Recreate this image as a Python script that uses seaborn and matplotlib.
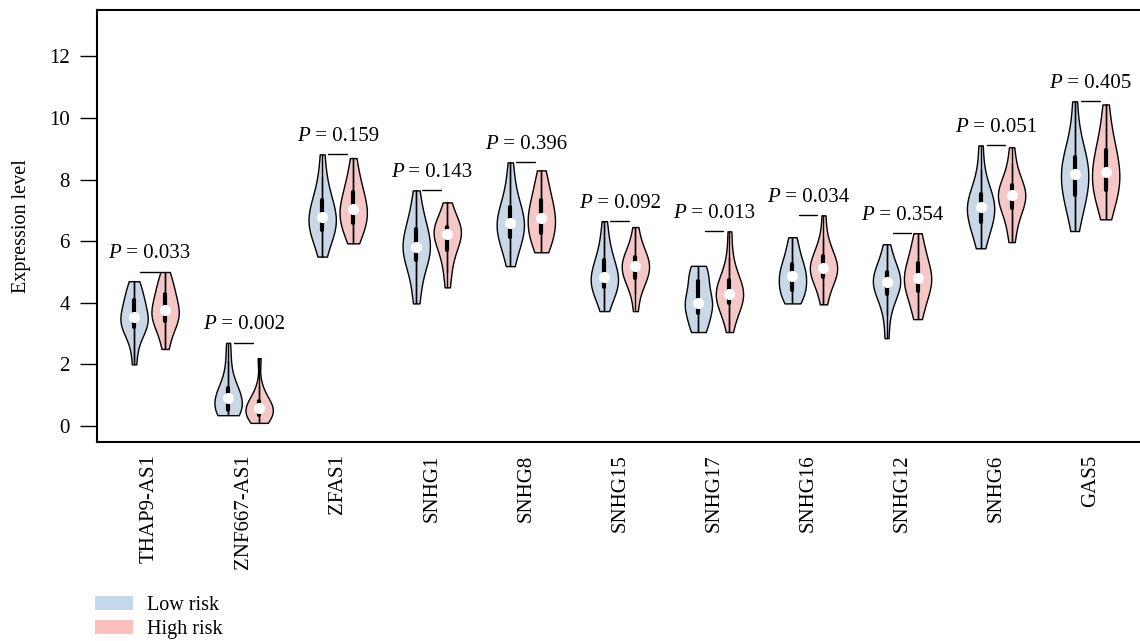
import numpy as np
import pandas as pd
import seaborn as sns
import matplotlib.pyplot as plt
from matplotlib.patches import Patch
from matplotlib.offsetbox import TextArea, HPacker, AnnotationBbox

genes = ["THAP9-AS1", "ZNF667-AS1", "ZFAS1", "SNHG1", "SNHG8", "SNHG15",
         "SNHG17", "SNHG16", "SNHG12", "SNHG6", "GAS5"]
p_values = ["0.033", "0.002", "0.159", "0.143", "0.396", "0.092",
            "0.013", "0.034", "0.354", "0.051", "0.405"]

# expression values (low risk group)
low_risk = [
    [2.0, 2.7, 3.0, 3.2, 3.25, 3.35, 3.45, 3.53, 3.6, 3.7, 4.0, 4.15, 4.25, 4.45, 4.7],
    [0.35, 0.38, 0.42, 0.48, 0.55, 0.65, 0.8, 0.9, 1.0, 1.1, 1.15, 1.3, 1.6, 2.1, 2.7],
    [5.5, 5.9, 6.15, 6.3, 6.45, 6.55, 6.65, 6.77, 6.9, 7.05, 7.25, 7.4, 7.7, 8.1, 8.82],
    [3.98, 4.5, 5.0, 5.3, 5.5, 5.6, 5.7, 5.8, 5.95, 6.1, 6.3, 6.5, 6.7, 7.1, 7.65],
    [5.19, 5.6, 5.9, 6.05, 6.2, 6.35, 6.5, 6.6, 6.7, 6.85, 7.0, 7.2, 7.5, 7.9, 8.56],
    [3.73, 4.1, 4.3, 4.45, 4.55, 4.65, 4.75, 4.84, 4.95, 5.1, 5.3, 5.45, 5.7, 6.1, 6.65],
    [3.05, 3.15, 3.3, 3.5, 3.85, 3.9, 3.95, 3.98, 4.1, 4.3, 4.6, 4.8, 4.95, 5.1, 5.2],
    [3.98, 4.1, 4.25, 4.35, 4.45, 4.6, 4.75, 4.86, 4.95, 5.05, 5.2, 5.35, 5.55, 5.85, 6.13],
    [2.85, 3.6, 4.0, 4.25, 4.35, 4.5, 4.6, 4.67, 4.75, 4.85, 4.95, 5.05, 5.25, 5.5, 5.9],
    [5.77, 6.1, 6.4, 6.55, 6.7, 6.85, 7.0, 7.1, 7.2, 7.3, 7.45, 7.6, 7.85, 8.3, 9.11],
    [6.33, 6.9, 7.2, 7.4, 7.6, 7.8, 8.0, 8.17, 8.3, 8.45, 8.65, 8.85, 9.1, 9.6, 10.54],
]

# high risk group
high_risk = [
    [2.5, 2.9, 3.2, 3.35, 3.45, 3.55, 3.65, 3.76, 3.85, 3.95, 4.2, 4.35, 4.5, 4.7, 5.0],
    [0.1, 0.18, 0.25, 0.3, 0.38, 0.45, 0.52, 0.57, 0.62, 0.7, 0.78, 0.85, 1.0, 1.3, 2.2],
    [5.93, 6.2, 6.4, 6.55, 6.65, 6.8, 6.95, 7.06, 7.15, 7.3, 7.5, 7.7, 7.9, 8.2, 8.7],
    [4.5, 5.0, 5.4, 5.65, 5.8, 6.0, 6.15, 6.25, 6.3, 6.38, 6.43, 6.5, 6.7, 6.95, 7.26],
    [5.64, 5.8, 6.05, 6.2, 6.35, 6.5, 6.65, 6.75, 6.9, 7.05, 7.25, 7.4, 7.65, 7.95, 8.3],
    [3.73, 4.3, 4.6, 4.75, 4.85, 4.95, 5.1, 5.19, 5.25, 5.35, 5.45, 5.55, 5.75, 6.0, 6.46],
    [3.05, 3.5, 3.75, 3.95, 4.05, 4.15, 4.22, 4.3, 4.4, 4.5, 4.65, 4.8, 5.0, 5.5, 6.32],
    [3.95, 4.3, 4.6, 4.8, 4.9, 5.0, 5.07, 5.12, 5.2, 5.3, 5.45, 5.6, 5.8, 6.1, 6.84],
    [3.47, 3.8, 4.1, 4.3, 4.45, 4.6, 4.7, 4.8, 4.9, 5.05, 5.2, 5.4, 5.6, 5.9, 6.26],
    [5.97, 6.4, 6.8, 7.0, 7.15, 7.3, 7.4, 7.49, 7.55, 7.65, 7.75, 7.9, 8.1, 8.5, 9.05],
    [6.71, 7.1, 7.4, 7.6, 7.75, 7.9, 8.1, 8.24, 8.4, 8.6, 8.85, 9.05, 9.3, 9.8, 10.44],
]

groups = ["Low risk", "High risk"]
colors = ["#c5d7eb", "#fdbfbe"]

rows = []
for g, lo, hi in zip(genes, low_risk, high_risk):
    rows += [(g, "Low risk", v) for v in lo]
    rows += [(g, "High risk", v) for v in hi]
df = pd.DataFrame(rows, columns=["gene", "group", "value"])

sns.set_style("ticks")
plt.rcParams["font.family"] = ["Liberation Serif", "DejaVu Serif"]
for key in ["text.color", "axes.labelcolor", "xtick.color", "ytick.color",
            "axes.edgecolor"]:
    plt.rcParams[key] = "black"

fig = plt.figure(figsize=(11.4, 6.41), dpi=100)
ax = fig.add_axes([0.085, 0.3105, 0.915, 0.6735])

violin_width = 0.66
sns.violinplot(data=df, x="gene", y="value", hue="group", order=genes,
               hue_order=groups, palette=colors, cut=0, density_norm="width",
               width=violin_width, gap=0.12, linewidth=1, linecolor="black",
               inner="box", inner_kws=dict(box_width=3, whis_width=1),
               legend=False, ax=ax)

# bigger white median dots
for ln in ax.lines:
    if ln.get_marker() not in ("None", "", None):
        ln.set_marker("o")
        ln.set_markersize(8)
        ln.set_markerfacecolor("white")
        ln.set_markeredgecolor("white")
        ln.set_markeredgewidth(0)
        ln.set_zorder(5)

# thin line through the full range of each violin
off = violin_width / 4
for i, (lo, hi) in enumerate(zip(low_risk, high_risk)):
    ax.vlines([i - off, i + off], [min(lo), min(hi)], [max(lo), max(hi)],
              color="black", lw=1, zorder=1.5)

# P value annotations (italic P + plain text, centred together)
for i, (lo, hi, p) in enumerate(zip(low_risk, high_risk, p_values)):
    top = max(max(lo), max(hi))
    ax.plot([i - 0.1, i + 0.1], [top, top], color="black", lw=1)
    t1 = TextArea("P", textprops=dict(fontsize=15, fontstyle="italic"))
    t2 = TextArea(" = " + p, textprops=dict(fontsize=15))
    box = HPacker(children=[t1, t2], pad=0, sep=0, align="baseline")
    ab = AnnotationBbox(box, (i, top + 0.28), box_alignment=(0.5, 0),
                        frameon=False, pad=0, zorder=10)
    ax.add_artist(ab)

ax.set_xlim(-0.56, 10.53)
ax.set_ylim(-0.52, 13.5)
ax.set_yticks(range(0, 13, 2))
ax.set_xlabel("")
ax.set_ylabel("Expression level", fontsize=14.5, labelpad=13)
ax.tick_params(axis="y", length=12.5, width=1, labelsize=15, pad=7)
ax.tick_params(axis="x", length=0, labelsize=15, pad=9, labelrotation=90)
for s in ["left", "top", "bottom"]:
    ax.spines[s].set_linewidth(1.5)
ax.spines["right"].set_visible(False)

handles = [Patch(facecolor=c, edgecolor="none") for c in colors]
fig.legend(handles, groups, loc="upper left", bbox_to_anchor=(0.083, 0.07),
           borderaxespad=0, borderpad=0, frameon=False, fontsize=14.5,
           handlelength=1.9, handleheight=0.65, labelspacing=0.25,
           handletextpad=0.7)

fig.savefig("out.png", dpi=100)
